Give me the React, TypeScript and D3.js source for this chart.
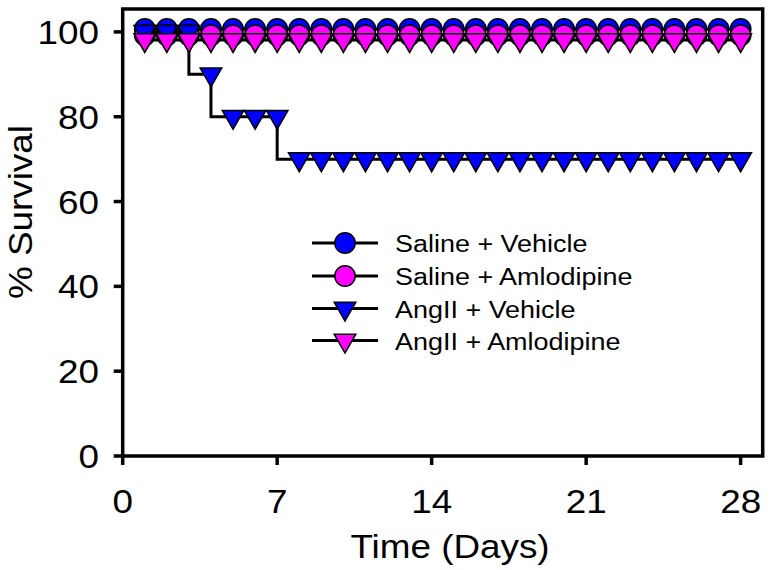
import React from "react";
import * as d3 from "d3";

const days = [1, 2, 3, 4, 5, 6, 7, 8, 9, 10, 11, 12, 13, 14, 15, 16, 17, 18, 19, 20, 21, 22, 23, 24, 25, 26, 27, 28];
const salineVehicle = [100.7, 100.7, 100.7, 100.7, 100.7, 100.7, 100.7, 100.7, 100.7, 100.7, 100.7, 100.7, 100.7, 100.7, 100.7, 100.7, 100.7, 100.7, 100.7, 100.7, 100.7, 100.7, 100.7, 100.7, 100.7, 100.7, 100.7, 100.7];
const salineAmlodipine = [99.2, 99.2, 99.2, 99.2, 99.2, 99.2, 99.2, 99.2, 99.2, 99.2, 99.2, 99.2, 99.2, 99.2, 99.2, 99.2, 99.2, 99.2, 99.2, 99.2, 99.2, 99.2, 99.2, 99.2, 99.2, 99.2, 99.2, 99.2];
const angVehicle = [100, 100, 100, 90, 80, 80, 80, 70, 70, 70, 70, 70, 70, 70, 70, 70, 70, 70, 70, 70, 70, 70, 70, 70, 70, 70, 70, 70];
const angAmlodipine = [98.1, 98.1, 98.1, 98.1, 98.1, 98.1, 98.1, 98.1, 98.1, 98.1, 98.1, 98.1, 98.1, 98.1, 98.1, 98.1, 98.1, 98.1, 98.1, 98.1, 98.1, 98.1, 98.1, 98.1, 98.1, 98.1, 98.1, 98.1];

const seriesNames = ["Saline + Vehicle", "Saline + Amlodipine", "AngII + Vehicle", "AngII + Amlodipine"];
const seriesValues = [salineVehicle, salineAmlodipine, angVehicle, angAmlodipine];
const seriesColors = ["#0000ff", "#ff00ff", "#0000ff", "#ff00ff"];
const seriesShapes = ["circle", "circle", "triangle", "triangle"];

const xTicks = [0, 7, 14, 21, 28];
const yTicks = [0, 20, 40, 60, 80, 100];

const FONT = "'Liberation Sans', Arial, Helvetica, sans-serif";
const STRETCH = 1.1;

function Marker({ shape, cx, cy, color }: { shape: string; cx: number; cy: number; color: string }) {
  if (shape === "circle") {
    return <circle cx={cx} cy={cy} r={10.2} fill={color} stroke="#000" strokeWidth={1.5} />;
  }
  const hw = 10.8;
  const top = cy - 6.3;
  const tip = cy + 12.5;
  return (
    <path
      d={`M${cx - hw},${top}L${cx + hw},${top}L${cx},${tip}Z`}
      fill={color}
      stroke="#000"
      strokeWidth={1.5}
      strokeLinejoin="miter"
    />
  );
}

function SText({
  x,
  y,
  rotate = 0,
  anchor = "start",
  size,
  children,
}: {
  x: number;
  y: number;
  rotate?: number;
  anchor?: string;
  size: number;
  children: React.ReactNode;
}) {
  return (
    <text
      transform={`translate(${x},${y}) rotate(${rotate}) scale(${STRETCH},1)`}
      textAnchor={anchor as any}
      fontSize={size}
      fill="#000"
    >
      {children}
    </text>
  );
}

export default function App() {
  const left = 122.7;
  const right = 762.7;
  const bottom = 456;
  const top = 9;
  const x = d3.scaleLinear().domain([0, 29]).range([left, right]);
  const y = d3.scaleLinear().domain([0, 105.4]).range([bottom, top]);

  const line = d3
    .line<[number, number]>()
    .x((d) => x(d[0]))
    .y((d) => y(d[1]))
    .curve(d3.curveStepBefore);

  const legendX = 312;
  const legendY = [243, 276, 308.5, 340.5];

  return (
    <svg
      width={773}
      height={570}
      style={{ position: "absolute", left: 0, top: 0, background: "#fff" }}
      fontFamily={FONT}
    >
      <rect x={0} y={0} width={773} height={570} fill="#fff" />

      {seriesValues.map((vals, si) => {
        const pts: [number, number][] = days.map((d, i) => [d, vals[i]]);
        return (
          <g key={si}>
            <path d={line(pts) || ""} fill="none" stroke="#000" strokeWidth={3} />
            {pts.map((p, i) => (
              <Marker key={i} shape={seriesShapes[si]} cx={x(p[0])} cy={y(p[1])} color={seriesColors[si]} />
            ))}
          </g>
        );
      })}

      <rect x={left} y={top} width={right - left} height={bottom - top} fill="none" stroke="#000" strokeWidth={3.5} />

      {yTicks.map((t) => (
        <g key={t}>
          <line x1={left - 9} x2={left} y1={y(t)} y2={y(t)} stroke="#000" strokeWidth={3.5} />
          <SText x={99} y={y(t) + 12} anchor="end" size={33.5}>
            {t}
          </SText>
        </g>
      ))}

      {xTicks.map((t) => (
        <g key={t}>
          <line x1={x(t)} x2={x(t)} y1={bottom} y2={bottom + 9} stroke="#000" strokeWidth={3.5} />
          <SText x={x(t)} y={513} anchor="middle" size={33.5}>
            {t}
          </SText>
        </g>
      ))}

      <SText x={450} y={558} anchor="middle" size={33.5}>
        Time (Days)
      </SText>
      <SText x={32} y={212} rotate={-90} anchor="middle" size={33.5}>
        % Survival
      </SText>

      {seriesNames.map((name, i) => (
        <g key={name}>
          <line x1={legendX} x2={legendX + 66} y1={legendY[i]} y2={legendY[i]} stroke="#000" strokeWidth={3} />
          <Marker shape={seriesShapes[i]} cx={legendX + 33} cy={legendY[i]} color={seriesColors[i]} />
          <SText x={395} y={legendY[i] + 9} size={24.5}>
            {name}
          </SText>
        </g>
      ))}
    </svg>
  );
}
